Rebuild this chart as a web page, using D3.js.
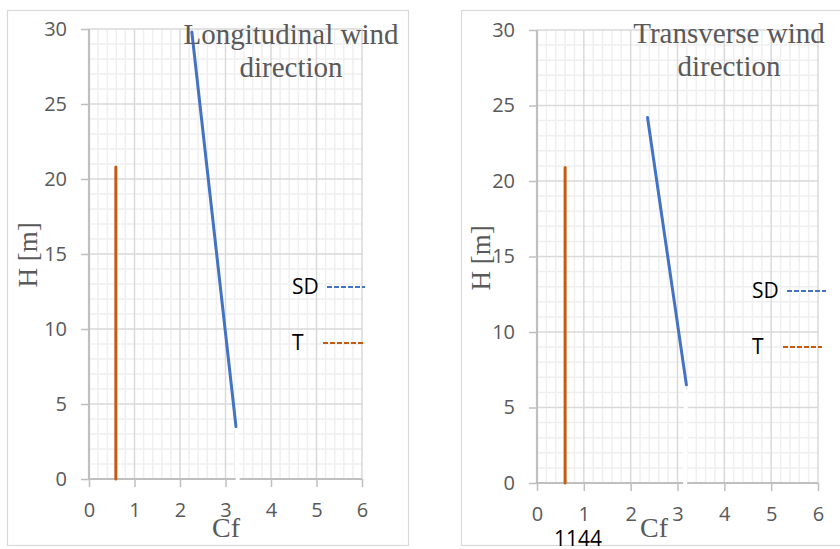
<!DOCTYPE html>
<html>
<head>
<meta charset="utf-8">
<script src="https://cdn.jsdelivr.net/npm/d3@7"></script>
<style>
body{margin:0;background:#fff;}
svg{display:block;}
</style>
</head>
<body>
<div id="chart"></div>
<script>
// values
var xTicks = [0,1,2,3,4,5,6];
var yTicks = [0,5,10,15,20,25,30];
var seriesNames = ["SD","T"];
var titles = [["Longitudinal wind","direction"],["Transverse wind","direction"]];
var sdLong = [{cf:2.26,h:29.8},{cf:3.23,h:3.5}];
var tLong = [{cf:0.59,h:0},{cf:0.59,h:20.8}];
var sdTrans = [{cf:2.36,h:24.2},{cf:3.19,h:6.5}];
var tTrans = [{cf:0.6,h:0},{cf:0.6,h:20.9}];
// white erase marks that cut the axis under the SD lines
var maskLong = [{cf:3.25,h:3.3},{cf:3.27,h:-0.6}];
var maskTrans = [{cf:3.18,h:6.2},{cf:3.16,h:-0.7}];

var colors = {SD:"#4472C4", T:"#C55A11"};
var W = 840, H = 549;

var svg = d3.select('#chart').append('svg')
	.attr('width', W).attr('height', H);
svg.append('rect').attr('width', W).attr('height', H).attr('fill', '#fff');

var panels = [
	{box:[7.5,10.5,401,535], px:[89,362], py:[479,29], title:titles[0], tx:291, ty:44,
	 cfx:226, hx:28, hy:255, leg:{x:292, y:[287,343], l:[[327,365],[323,363]]},
	 sd:sdLong, t:tLong, mask:maskLong},
	{box:[461.5,10.5,390,535], px:[537,818], py:[483,30], title:titles[1], tx:729, ty:43,
	 cfx:654, hx:481, hy:258, leg:{x:752, y:[291,347], l:[[787,826],[783,822]]},
	 sd:sdTrans, t:tTrans, mask:maskTrans}
];

panels.forEach(function(p){
	var g = svg.append('g');
	g.append('rect')
		.attr('x', p.box[0]).attr('y', p.box[1])
		.attr('width', p.box[2]).attr('height', p.box[3])
		.attr('fill', '#fff').attr('stroke', '#d9d9d9').attr('stroke-width', 1.2);

	var x = d3.scaleLinear().domain([0,6]).range(p.px);
	var y = d3.scaleLinear().domain([0,30]).range(p.py);

	// minor grid
	var minorX = d3.range(0, 6.001, 0.2).filter(function(v){ return Math.abs(v-Math.round(v))>0.01; });
	var minorY = d3.range(0, 30.001, 1).filter(function(v){ return v%5!=0; });
	g.selectAll('.mx').data(minorX).enter().append('line')
		.attr('x1', function(d){return x(d);}).attr('x2', function(d){return x(d);})
		.attr('y1', y(0)).attr('y2', y(30))
		.attr('stroke', '#efefef').attr('stroke-width', 1.5);
	g.selectAll('.my').data(minorY).enter().append('line')
		.attr('y1', function(d){return y(d);}).attr('y2', function(d){return y(d);})
		.attr('x1', x(0)).attr('x2', x(6))
		.attr('stroke', '#efefef').attr('stroke-width', 1.5);

	// major grid
	g.selectAll('.gx').data(xTicks.slice(1)).enter().append('line')
		.attr('x1', function(d){return x(d);}).attr('x2', function(d){return x(d);})
		.attr('y1', y(0)).attr('y2', y(30))
		.attr('stroke', '#d9d9d9').attr('stroke-width', 1.5);
	g.selectAll('.gy').data(yTicks.slice(1)).enter().append('line')
		.attr('y1', function(d){return y(d);}).attr('y2', function(d){return y(d);})
		.attr('x1', x(0)).attr('x2', x(6))
		.attr('stroke', '#d9d9d9').attr('stroke-width', 1.5);

	// axes
	var xAxis = g.append('g').attr('transform', 'translate(0,'+y(0)+')')
		.call(d3.axisBottom(x).tickValues(xTicks).tickSize(8).tickPadding(16).tickFormat(d3.format('d')));
	var yAxis = g.append('g').attr('transform', 'translate('+x(0)+',0)')
		.call(d3.axisLeft(y).tickValues(yTicks).tickSize(8).tickPadding(14).tickFormat(d3.format('d')));
	[xAxis, yAxis].forEach(function(a){
		a.select('.domain').attr('stroke', '#bfbfbf').attr('stroke-width', 2.2);
		a.selectAll('.tick line').attr('stroke', '#bfbfbf').attr('stroke-width', 1.5);
		a.selectAll('.tick text').attr('fill', '#595959')
			.style('font-family', '"Open Sans", sans-serif').style('font-size', '20px');
	});
	xAxis.select('.domain').attr('d', 'M'+p.px[0]+',0H'+p.px[1]);
	yAxis.select('.domain').attr('d', 'M0,'+p.py[0]+'V'+p.py[1]);

	var line = d3.line().x(function(d){return x(d.cf);}).y(function(d){return y(d.h);});

	g.append('path').datum(p.mask).attr('d', line)
		.attr('fill', 'none').attr('stroke', '#fff').attr('stroke-width', 4);
	g.append('path').datum(p.t).attr('d', line)
		.attr('fill', 'none').attr('stroke', colors.T).attr('stroke-width', 3).attr('stroke-linecap', 'round');
	g.append('path').datum(p.sd).attr('d', line)
		.attr('fill', 'none').attr('stroke', colors.SD).attr('stroke-width', 3).attr('stroke-linecap', 'round');

	// title
	var tt = g.append('text').attr('text-anchor', 'middle').attr('fill', '#595959')
		.style('font-family', '"Liberation Serif", serif').style('font-size', '29px');
	p.title.forEach(function(s, i){
		tt.append('tspan').attr('x', p.tx).attr('y', p.ty + i*33).text(s);
	});

	// axis titles
	g.append('text').attr('x', p.cfx).attr('y', 537).attr('text-anchor', 'middle')
		.attr('fill', '#595959').style('font-family', '"Liberation Serif", serif').style('font-size', '28px')
		.text('Cf');
	g.append('text').attr('transform', 'translate('+(p.hx+9)+','+p.hy+') rotate(-90)')
		.attr('text-anchor', 'middle').attr('fill', '#595959')
		.style('font-family', '"Liberation Serif", serif').style('font-size', '27px')
		.text('H [m]');

	// legend
	seriesNames.forEach(function(n, i){
		g.append('text').attr('x', p.leg.x).attr('y', p.leg.y[i]).attr('dy', '0.35em')
			.attr('fill', '#000').style('font-family', '"Open Sans", sans-serif').style('font-size', '21px')
			.text(n);
		g.append('line').attr('x1', p.leg.l[i][0]).attr('x2', p.leg.l[i][1])
			.attr('y1', p.leg.y[i]).attr('y2', p.leg.y[i])
			.attr('stroke', colors[n]).attr('stroke-width', 2).attr('stroke-dasharray', '5,2');
	});
});

svg.append('text').attr('x', 578).attr('y', 546).attr('text-anchor', 'middle')
	.attr('fill', '#000').style('font-family', '"Open Sans", sans-serif').style('font-size', '21px')
	.text('1144');
</script>
</body>
</html>
